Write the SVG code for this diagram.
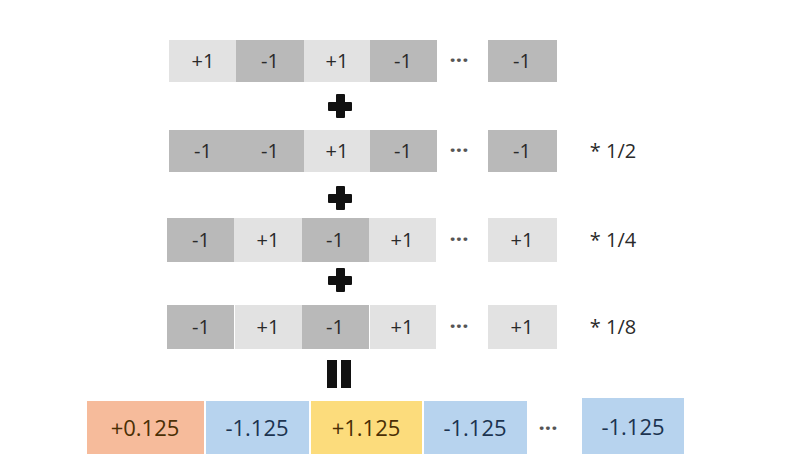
<svg xmlns="http://www.w3.org/2000/svg" width="810" height="468" viewBox="0 0 810 468">
<style>
.lt{fill:#e2e2e2}
.dk{fill:#b9b9b9}
.t{font-family:"Open Sans","Noto Sans","Liberation Sans",sans-serif;font-size:20px;fill:#2a2a2a;text-anchor:middle}
.b{font-family:"Open Sans","Noto Sans","Liberation Sans",sans-serif;font-size:22px;text-anchor:middle}
.or{fill:#f6bb9b}
.bl{fill:#b7d3ee}
.ye{fill:#fcdc7c}
.dots{font-family:"Open Sans","Noto Sans","Liberation Sans",sans-serif;font-size:22px;font-weight:bold;fill:#555;text-anchor:middle}
.op{fill:#111}
</style>
<rect width="810" height="468" fill="#ffffff"/>
<g id="row1">
<rect class="lt" x="169" y="40" width="67" height="42"/><text class="t" x="203" y="68">+1</text>
<rect class="dk" x="236" y="40" width="68" height="42"/><text class="t" x="270" y="68">-1</text>
<rect class="lt" x="304" y="40" width="66" height="42"/><text class="t" x="337" y="68">+1</text>
<rect class="dk" x="370" y="40" width="67" height="42"/><text class="t" x="403" y="68">-1</text>
<text class="dots" x="459" y="68">···</text>
<rect class="dk" x="488" y="40" width="69" height="42"/><text class="t" x="522" y="68">-1</text>
</g>
<g id="plus1"><rect class="op" x="336" y="94" width="9" height="24" rx="1"/><rect class="op" x="328" y="102" width="24" height="9" rx="1"/></g>
<g id="row2">
<rect class="dk" x="169" y="130" width="67" height="42"/><text class="t" x="203" y="158">-1</text>
<rect class="dk" x="236" y="130" width="68" height="42"/><text class="t" x="270" y="158">-1</text>
<rect class="lt" x="304" y="130" width="66" height="42"/><text class="t" x="337" y="158">+1</text>
<rect class="dk" x="370" y="130" width="67" height="42"/><text class="t" x="403" y="158">-1</text>
<text class="dots" x="459" y="158">···</text>
<rect class="dk" x="488" y="130" width="69" height="42"/><text class="t" x="522" y="158">-1</text>
<text class="t" x="613" y="158">* 1/2</text>
</g>
<g id="plus2"><rect class="op" x="336" y="186" width="9" height="24" rx="1"/><rect class="op" x="328" y="194" width="24" height="9" rx="1"/></g>
<g id="row3">
<rect class="dk" x="167" y="218" width="67" height="44"/><text class="t" x="201" y="247">-1</text>
<rect class="lt" x="234" y="218" width="68" height="44"/><text class="t" x="268" y="247">+1</text>
<rect class="dk" x="302" y="218" width="67" height="44"/><text class="t" x="335" y="247">-1</text>
<rect class="lt" x="369" y="218" width="67" height="44"/><text class="t" x="402" y="247">+1</text>
<text class="dots" x="459" y="247">···</text>
<rect class="lt" x="488" y="218" width="69" height="44"/><text class="t" x="522" y="247">+1</text>
<text class="t" x="613" y="247">* 1/4</text>
</g>
<g id="plus3"><rect class="op" x="336" y="268" width="9" height="24" rx="1"/><rect class="op" x="328" y="276" width="24" height="9" rx="1"/></g>
<g id="row4">
<rect class="dk" x="167" y="305" width="67" height="44"/><text class="t" x="201" y="334">-1</text>
<rect class="lt" x="235" y="305" width="67" height="44"/><text class="t" x="268" y="334">+1</text>
<rect class="dk" x="302" y="305" width="67" height="44"/><text class="t" x="335" y="334">-1</text>
<rect class="lt" x="370" y="305" width="66" height="44"/><text class="t" x="402" y="334">+1</text>
<text class="dots" x="459" y="334">···</text>
<rect class="lt" x="488" y="305" width="69" height="44"/><text class="t" x="522" y="334">+1</text>
<text class="t" x="613" y="334">* 1/8</text>
</g>
<g id="equals"><rect class="op" x="327" y="360" width="10" height="28"/><rect class="op" x="341" y="360" width="10" height="28"/></g>
<g id="result">
<rect class="or" x="87" y="401" width="117" height="53"/><text class="b" x="145" y="436" fill="#4a2f05">+0.125</text>
<rect class="bl" x="206" y="401" width="103" height="53"/><text class="b" x="257" y="436" fill="#1c3350">-1.125</text>
<rect class="ye" x="311" y="401" width="111" height="53"/><text class="b" x="366" y="436" fill="#4a2f05">+1.125</text>
<rect class="bl" x="424" y="401" width="103" height="53"/><text class="b" x="475" y="436" fill="#1c3350">-1.125</text>
<text class="dots" x="548" y="436">···</text>
<rect class="bl" x="582" y="398" width="102" height="56"/><text class="b" x="633" y="435" fill="#1c3350">-1.125</text>
</g>
</svg>
